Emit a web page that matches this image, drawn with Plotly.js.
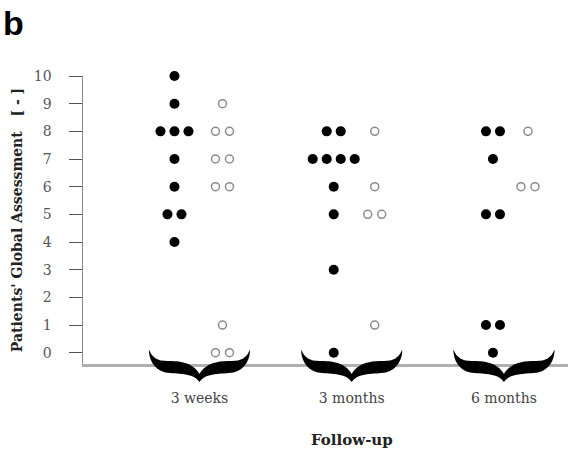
<!DOCTYPE html>
<html><head><meta charset="utf-8">
<script src="https://cdn.plot.ly/plotly-3.0.1.min.js"></script>
<style>html,body{margin:0;padding:0;background:#fff}#chart{width:568px;height:450px}</style>
</head><body><div id="chart"></div>
<script>
// ---------------- data ----------------
const categories = ["3 weeks", "3 months", "6 months"];
const filled3Weeks  = [10, 9, 8, 8, 8, 7, 6, 5, 5, 4];
const filled3Months = [8, 8, 7, 7, 7, 7, 6, 5, 3, 0];
const filled6Months = [8, 8, 7, 5, 5, 1, 1, 0];
const open3Weeks  = [9, 8, 8, 7, 7, 6, 6, 1, 0, 0];
const open3Months = [8, 6, 5, 5, 1];
const open6Months = [8, 6, 6];
const yTickValues = [0, 1, 2, 3, 4, 5, 6, 7, 8, 9, 10];

// ---------------- layout constants ----------------
const W = 568, H = 450;
const M = {l: 83, r: 0, t: 76, b: 86};
const PLOT_W = W - M.l - M.r, PLOT_H = H - M.t - M.b;
const PLOT_BOTTOM = H - M.b;
const X_RANGE = [0.235, 0.235 + PLOT_W / 152.25];
const PX_PER_CAT = PLOT_W / (X_RANGE[1] - X_RANGE[0]);
const DOT_GAP_PX = 14;
const FILLED_SHIFT_PX = [-25, -18, -11];
const OPEN_SHIFT_PX = [23, 23, 24];
const SERIF = "DejaVu Serif, Liberation Serif, serif";

function swarm(values, catIdx, shiftPx) {
  const counts = {}, seen = {};
  values.forEach(v => counts[v] = (counts[v] || 0) + 1);
  const xs = values.map(v => {
    const k = seen[v] = (seen[v] === undefined ? 0 : seen[v] + 1);
    const off = shiftPx + (k - (counts[v] - 1) / 2) * DOT_GAP_PX;
    return (catIdx + 1) + off / PX_PER_CAT;
  });
  return {x: xs, y: values};
}

const filledSets = [filled3Weeks, filled3Months, filled6Months];
const openSets = [open3Weeks, open3Months, open6Months];
const traces = [];
filledSets.forEach((vals, i) => {
  const p = swarm(vals, i, FILLED_SHIFT_PX[i]);
  traces.push({type: 'scatter', mode: 'markers', x: p.x, y: p.y, cliponaxis: false,
    showlegend: false, hoverinfo: 'y',
    marker: {symbol: 'circle', size: 10, color: '#000', line: {width: 0}}});
});
openSets.forEach((vals, i) => {
  const p = swarm(vals, i, OPEN_SHIFT_PX[i]);
  traces.push({type: 'scatter', mode: 'markers', x: p.x, y: p.y, cliponaxis: false,
    showlegend: false, hoverinfo: 'y',
    marker: {symbol: 'circle', size: 8, color: '#fff', line: {width: 1.5, color: '#8c8c8c'}}});
});

// horizontal curly brace (decoration) under each category
function bracePath(cx) {
  const X = dx => (cx + dx / PX_PER_CAT).toFixed(4);
  const Y = py => ((PLOT_BOTTOM - py) / PLOT_H).toFixed(4);
  const P = (dx, py) => X(dx) + ',' + Y(py);
  return 'M' + P(-50.5, 349.5) +
    ' C' + P(-47, 358) + ' ' + P(-42, 361) + ' ' + P(-32, 361) +
    ' C' + P(-20, 361) + ' ' + P(-7, 362) + ' ' + P(0, 374) +
    ' C' + P(7, 362) + ' ' + P(20, 361) + ' ' + P(32, 361) +
    ' C' + P(42, 361) + ' ' + P(47, 358) + ' ' + P(50.5, 349.5) +
    ' C' + P(51, 358) + ' ' + P(46, 370) + ' ' + P(34, 372.5) +
    ' C' + P(22, 374.5) + ' ' + P(7, 372) + ' ' + P(0, 382) +
    ' C' + P(-7, 372) + ' ' + P(-22, 374.5) + ' ' + P(-34, 372.5) +
    ' C' + P(-46, 370) + ' ' + P(-51, 358) + ' ' + P(-50.5, 349.5) + ' Z';
}
const shapes = categories.map((c, i) => ({
  type: 'path', xref: 'x', yref: 'paper', layer: 'above',
  path: bracePath(i + 1), fillcolor: '#000', line: {width: 0}
}));

const layout = {
  width: W, height: H, margin: M,
  paper_bgcolor: '#fff', plot_bgcolor: '#fff',
  showlegend: false,
  xaxis: {
    range: X_RANGE, tickmode: 'array', tickvals: categories.map((c, i) => i + 1),
    ticktext: categories, ticks: '', showgrid: false, zeroline: false,
    showline: true, linecolor: '#b0b0b0', linewidth: 3,
    ticklabelstandoff: 19,
    tickfont: {family: SERIF, size: 14, color: '#444'}
  },
  yaxis: {
    range: [-0.408, 10], tickmode: 'array', tickvals: yTickValues,
    ticktext: yTickValues.map(String),
    ticks: 'outside', ticklen: 13, tickwidth: 1, tickcolor: '#555',
    showgrid: false, zeroline: false,
    showline: true, linecolor: '#888', linewidth: 1.5,
    ticklabelstandoff: 14,
    tickfont: {family: SERIF, size: 14, color: '#555'},
    title: {text: "Patients' Global Assessment&nbsp;&nbsp;&nbsp;[ - ]", standoff: 8,
      font: {family: SERIF, size: 14, color: '#222', weight: 'bold'}}
  },
  shapes: shapes,
  annotations: [
    {text: 'Follow-up', xref: 'x', x: 2, yref: 'paper', y: (PLOT_BOTTOM - 440) / PLOT_H,
      xanchor: 'center', yanchor: 'middle', showarrow: false,
      font: {family: SERIF, size: 15, color: '#222', weight: 'bold'}},
    {text: 'b', xref: 'paper', x: (1 - M.l) / PLOT_W, yref: 'paper', y: (PLOT_BOTTOM - 2) / PLOT_H,
      xanchor: 'left', yanchor: 'top', showarrow: false,
      font: {family: 'Liberation Sans, Arial, sans-serif', size: 34, color: '#000', weight: 'bold'}}
  ]
};

Plotly.newPlot('chart', traces, layout, {staticPlot: true, displayModeBar: false});
</script></body></html>
